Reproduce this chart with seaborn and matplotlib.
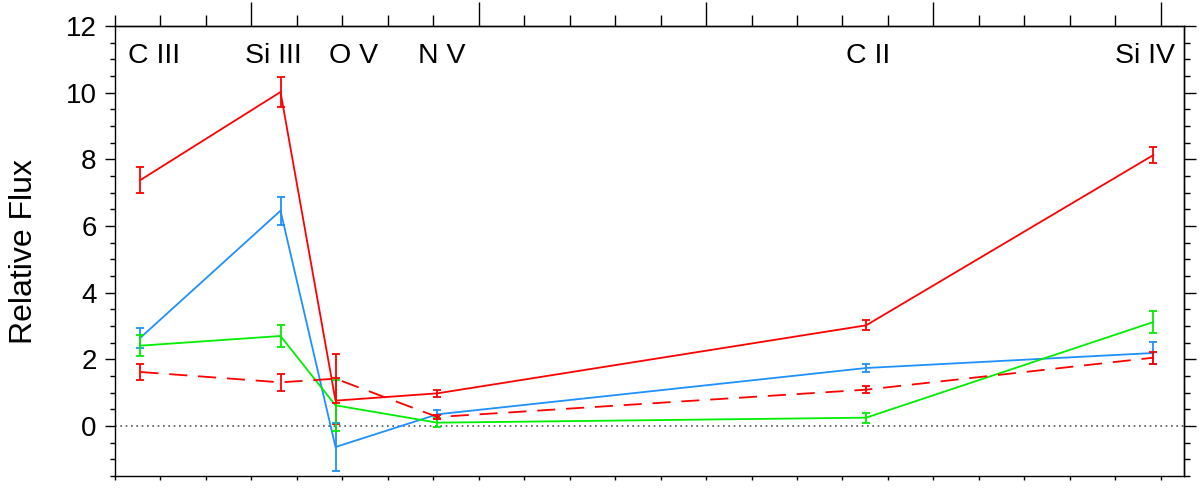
import numpy as np
import seaborn as sns
import matplotlib
matplotlib.use("Agg")
import matplotlib.pyplot as plt
from matplotlib.ticker import MultipleLocator, NullFormatter

#########################
# data
#########################

ions = ["C III", "Si III", "O V", "N V", "C II", "Si IV"]
ion_x = [-2.44, 0.64, 1.85, 4.09, 13.52, 19.84]

red_solid = [7.38, 10.02, 0.76, 0.98, 3.02, 8.13]
red_solid_err = [0.38, 0.46, 0.69, 0.10, 0.15, 0.25]

blue = [2.65, 6.46, -0.63, 0.35, 1.74, 2.19]
blue_err = [0.30, 0.42, 0.72, 0.14, 0.13, 0.33]

green = [2.41, 2.70, 0.62, 0.10, 0.25, 3.12]
green_err = [0.31, 0.33, 0.77, 0.13, 0.15, 0.33]

red_dashed = [1.62, 1.31, 1.42, 0.27, 1.09, 2.05]
red_dashed_err = [0.23, 0.25, 0.73, 0.07, 0.11, 0.18]

# left edge of the ion names (layout only)
label_x = [-2.71, -0.15, 1.70, 3.67, 13.08, 19.0]

#########################
# style
#########################

sns.set_style("ticks")
plt.rcParams["font.family"] = ["Liberation Sans", "DejaVu Sans"]
plt.rcParams["text.color"] = "black"
plt.rcParams["axes.labelcolor"] = "black"
plt.rcParams["xtick.color"] = "black"
plt.rcParams["ytick.color"] = "black"

fig = plt.figure(figsize=(12, 4.92), dpi=100)
ax = fig.add_axes([115 / 1200, 16 / 492, 1068.5 / 1200, 450 / 492])

series = [
    (red_solid, red_solid_err, "#ff0000", "-"),
    (blue, blue_err, "#1e90ff", "-"),
    (green, green_err, "#00ee00", "-"),
    (red_dashed, red_dashed_err, "#ff0000", (0, (10, 6))),
]

ax.axhline(0, color="#555555", lw=1.2, linestyle=(0, (1, 2.2)), zorder=1)

for vals, errs, col, ls in series:
    sns.lineplot(x=ion_x, y=vals, color=col, linestyle=ls, lw=1.3, ax=ax,
                 sort=False, zorder=3)
    ax.errorbar(ion_x, vals, yerr=errs, fmt="none", ecolor=col, elinewidth=1.3,
                capsize=3.2, capthick=1.3, zorder=3)

for name, lx in zip(ions, label_x):
    ax.text(lx, 10.88, name, ha="left", va="baseline", fontsize=20.5)

ax.set_xlim(-3, 20.5)
ax.set_ylim(-1.5, 12)
ax.set_ylabel("Relative Flux", fontsize=23)
ax.yaxis.set_label_coords(-0.071, 0.5)

ax.xaxis.set_major_locator(MultipleLocator(5))
ax.xaxis.set_minor_locator(MultipleLocator(1))
ax.xaxis.set_major_formatter(NullFormatter())
ax.yaxis.set_major_locator(MultipleLocator(2))
ax.yaxis.set_minor_locator(MultipleLocator(0.5))

for s in ax.spines.values():
    s.set_visible(True)
    s.set_linewidth(1.0)
    s.set_color("black")

ax.tick_params(axis="x", which="both", direction="out", length=3.1, width=1.0,
               top=False, bottom=True)
ax.tick_params(axis="y", which="major", direction="out", length=7.2, width=1.0,
               labelsize=20, pad=6)
ax.tick_params(axis="y", which="minor", direction="out", length=3.6, width=1.0)

# top axis: long majors, medium minors
top = ax.secondary_xaxis("top")
top.xaxis.set_major_locator(MultipleLocator(5))
top.xaxis.set_minor_locator(MultipleLocator(1))
top.xaxis.set_major_formatter(NullFormatter())
top.tick_params(which="major", direction="out", length=17.3, width=1.0)
top.tick_params(which="minor", direction="out", length=8.0, width=1.0)
top.spines["top"].set_linewidth(1.0)

# right axis
right = ax.secondary_yaxis("right")
right.yaxis.set_major_locator(MultipleLocator(2))
right.yaxis.set_minor_locator(MultipleLocator(0.5))
right.yaxis.set_major_formatter(NullFormatter())
right.tick_params(which="major", direction="out", length=8.4, width=1.0)
right.tick_params(which="minor", direction="out", length=4.3, width=1.0)
right.spines["right"].set_linewidth(1.0)

plt.savefig("out.png", dpi=100)
